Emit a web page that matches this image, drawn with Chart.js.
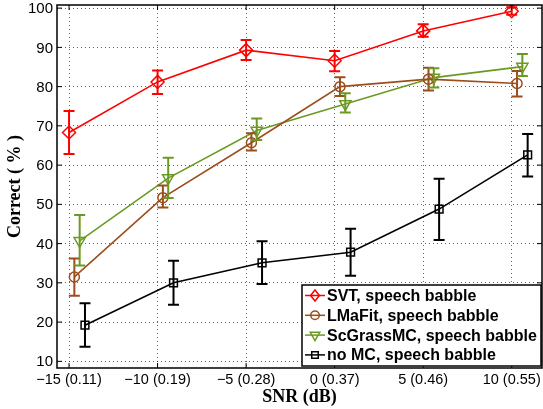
<!DOCTYPE html>
<html>
<head>
<meta charset="utf-8">
<script src="https://cdn.jsdelivr.net/npm/chart.js@4/dist/chart.umd.min.js"></script>
<style>
  body { margin: 0; background: #fff; }
  canvas { display: block; }
</style>
</head>
<body>
<canvas id="snr" width="543" height="409"></canvas>
<script>
// SNR values (dB) and tick labels
const snr = [-15, -10, -5, 0, 5, 10];
const xTickLabels = ["\u221215 (0.11)", "\u221210 (0.19)", "\u22125 (0.28)", "0 (0.37)", "5 (0.46)", "10 (0.55)"];
const yTicks = [10, 20, 30, 40, 50, 60, 70, 80, 90, 100];

const seriesNames = ["SVT, speech babble", "LMaFit, speech babble", "ScGrassMC, speech babble", "no MC, speech babble"];
// small horizontal shift of each series so error bars don't overlap (dB)
const jitter = [0, 0.3, 0.6, 0.9];

const svtMean = [68.3, 81.2, 89.3, 86.6, 94.2, 99.2];
const svtLow = [62.8, 78.1, 86.8, 83.9, 92.7, 98.3];
const svtHigh = [73.8, 84.1, 91.9, 89.1, 95.9, 100.2];

const lmafitMean = [31.5, 51.7, 65.7, 80.0, 81.9, 80.8];
const lmafitLow = [26.7, 49.2, 63.7, 77.6, 79.0, 77.5];
const lmafitHigh = [36.2, 54.8, 68.1, 82.4, 84.8, 84.0];

const scgrassMean = [40.7, 56.7, 68.8, 75.6, 82.3, 85.1];
const scgrassLow = [34.4, 51.6, 66.4, 73.4, 79.8, 82.7];
const scgrassHigh = [47.3, 61.9, 71.9, 78.3, 84.7, 88.3];

const nomcMean = [19.2, 30.0, 35.1, 37.8, 48.8, 62.6];
const nomcLow = [13.7, 24.4, 29.7, 31.8, 40.9, 57.1];
const nomcHigh = [24.8, 35.6, 40.6, 43.8, 56.5, 67.9];

const means = [svtMean, lmafitMean, scgrassMean, nomcMean];
const lows = [svtLow, lmafitLow, scgrassLow, nomcLow];
const highs = [svtHigh, lmafitHigh, scgrassHigh, nomcHigh];

const colors = ["#ff0000", "#9c4d1c", "#6b9a22", "#000000"];
const markers = [
  { style: "rectRot", radius: 6.5, rotation: 0 },
  { style: "circle", radius: 5, rotation: 0 },
  { style: "triangle", radius: 6.5, rotation: 180 },
  { style: "rect", radius: 5.5, rotation: 0 },
];

const datasets = seriesNames.map((name, i) => ({
  label: name,
  data: snr.map((s, j) => ({ x: s + jitter[i], y: means[i][j] })),
  borderColor: colors[i],
  borderWidth: 1.6,
  pointStyle: markers[i].style,
  pointRadius: markers[i].radius,
  pointRotation: markers[i].rotation,
  pointBorderColor: colors[i],
  pointBackgroundColor: "rgba(0,0,0,0)",
  pointBorderWidth: 1.5,
  fill: false,
  tension: 0,
}));

const sansFont = "'Liberation Sans', Arial, sans-serif";

// error bars, axis box, inner ticks, tick labels, legend
const errorBars = {
  id: "errorBars",
  afterDatasetsDraw(chart) {
    const ctx = chart.ctx;
    const xs = chart.scales.x, ys = chart.scales.y;
    ctx.save();
    datasets.forEach((d, i) => {
      ctx.strokeStyle = colors[i];
      ctx.lineWidth = 2;
      snr.forEach((s, j) => {
        const px = xs.getPixelForValue(s + jitter[i]);
        const top = ys.getPixelForValue(highs[i][j]);
        const bot = ys.getPixelForValue(lows[i][j]);
        ctx.beginPath();
        ctx.moveTo(px, top); ctx.lineTo(px, bot);
        ctx.moveTo(px - 5.5, top); ctx.lineTo(px + 5.5, top);
        ctx.moveTo(px - 5.5, bot); ctx.lineTo(px + 5.5, bot);
        ctx.stroke();
      });
    });
    ctx.restore();
  },
  afterDraw(chart) {
    const ctx = chart.ctx;
    const a = chart.chartArea;
    const xs = chart.scales.x, ys = chart.scales.y;
    ctx.save();
    ctx.strokeStyle = "#000";
    ctx.lineWidth = 1.5;
    ctx.strokeRect(a.left, a.top, a.right - a.left, a.bottom - a.top);
    ctx.lineWidth = 1;
    ctx.beginPath();
    snr.forEach(s => {
      const px = xs.getPixelForValue(s);
      ctx.moveTo(px, a.bottom); ctx.lineTo(px, a.bottom - 5);
      ctx.moveTo(px, a.top); ctx.lineTo(px, a.top + 5);
    });
    yTicks.forEach(v => {
      const py = ys.getPixelForValue(v);
      ctx.moveTo(a.left, py); ctx.lineTo(a.left + 5, py);
      ctx.moveTo(a.right, py); ctx.lineTo(a.right - 5, py);
    });
    ctx.stroke();

    ctx.fillStyle = "#000";
    ctx.textBaseline = "middle";
    ctx.font = "14.5px " + sansFont;
    ctx.textAlign = "center";
    snr.forEach((s, j) => {
      ctx.fillText(xTickLabels[j], xs.getPixelForValue(s), a.bottom + 12);
    });
    ctx.font = "15px " + sansFont;
    ctx.textAlign = "right";
    yTicks.forEach(v => {
      ctx.fillText(String(v), a.left - 4, ys.getPixelForValue(v) + 1);
    });
    ctx.restore();
    drawLegend(chart);
  },
};

function drawMarker(ctx, style, x, y, r, rot) {
  ctx.beginPath();
  if (style === "circle") {
    ctx.arc(x, y, r, 0, Math.PI * 2);
  } else if (style === "rectRot") {
    ctx.moveTo(x, y - r); ctx.lineTo(x + r * 0.8, y); ctx.lineTo(x, y + r); ctx.lineTo(x - r * 0.8, y); ctx.closePath();
  } else if (style === "rect") {
    const h = r * 0.7;
    ctx.rect(x - h, y - h, 2 * h, 2 * h);
  } else if (style === "triangle") {
    const sgn = rot === 180 ? -1 : 1;
    ctx.moveTo(x, y - sgn * r);
    ctx.lineTo(x + r * 0.866, y + sgn * r * 0.5);
    ctx.lineTo(x - r * 0.866, y + sgn * r * 0.5);
    ctx.closePath();
  }
  ctx.stroke();
}

function drawLegend(chart) {
  const ctx = chart.ctx;
  const a = chart.chartArea;
  const w = 239, h = 81;
  const left = a.right - 1 - w, top = a.bottom - 2 - h;
  ctx.save();
  ctx.fillStyle = "#fff";
  ctx.fillRect(left, top, w, h);
  ctx.strokeStyle = "#000";
  ctx.lineWidth = 1.5;
  ctx.strokeRect(left, top, w, h);
  ctx.font = "bold 16px " + sansFont;
  ctx.textBaseline = "middle";
  seriesNames.forEach((name, i) => {
    const y = top + 10.5 + i * 19.8;
    ctx.strokeStyle = colors[i];
    ctx.lineWidth = 1.5;
    ctx.beginPath();
    ctx.moveTo(left + 3, y); ctx.lineTo(left + 23, y);
    ctx.stroke();
    drawMarker(ctx, markers[i].style, left + 13, y, markers[i].radius * 0.85, markers[i].rotation);
    ctx.fillStyle = "#000";
    ctx.fillText(name, left + 25, y + 1);
  });
  ctx.restore();
}

const titleFont = { family: "'Liberation Serif', 'Times New Roman', serif", size: 18, weight: "bold" };
const gridStyle = {
  color: "rgba(0,0,0,0.6)",
  lineWidth: 1,
  drawTicks: false,
};

new Chart(document.getElementById("snr"), {
  type: "line",
  data: { datasets: datasets },
  options: {
    responsive: false,
    animation: false,
    devicePixelRatio: 1,
    layout: { autoPadding: false, padding: { top: 5, right: 1, left: 0, bottom: 0 } },
    plugins: { legend: { display: false }, tooltip: { enabled: false } },
    scales: {
      x: {
        type: "linear",
        min: -15.68,
        max: 11.71,
        afterBuildTicks: s => { s.ticks = snr.map(v => ({ value: v })); },
        afterFit: s => { s.height = 41; },
        ticks: { display: false },
        grid: gridStyle,
        border: { display: false, dash: [1, 3] },
        title: { display: true, text: "SNR (dB)", color: "#000", font: titleFont, padding: { top: 0, bottom: 1 } },
      },
      y: {
        min: 8.3,
        max: 100.8,
        afterBuildTicks: s => { s.ticks = yTicks.map(v => ({ value: v })); },
        afterFit: s => { s.width = 57; },
        ticks: { display: false },
        grid: gridStyle,
        border: { display: false, dash: [1, 3] },
        title: { display: true, text: "Correct ( % )", color: "#000", font: titleFont, padding: { top: 5, bottom: 0 } },
      },
    },
  },
  plugins: [errorBars],
});
</script>
</body>
</html>
